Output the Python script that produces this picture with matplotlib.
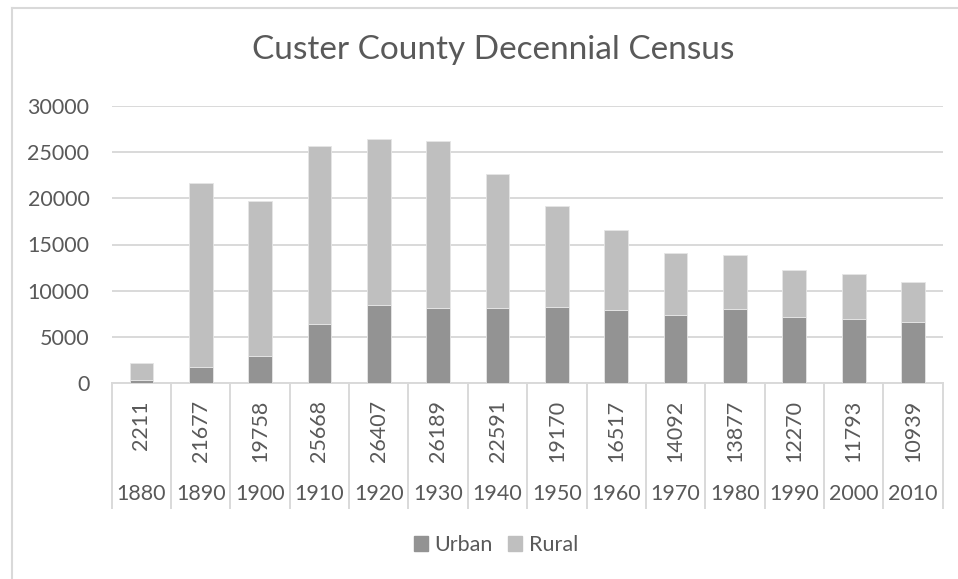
import matplotlib.pyplot as plt
import matplotlib.transforms as mtransforms
from matplotlib.lines import Line2D
from matplotlib.patches import Patch

plt.rcParams['font.family'] = ['Lato', 'DejaVu Sans']

years = ['1880', '1890', '1900', '1910', '1920', '1930', '1940',
         '1950', '1960', '1970', '1980', '1990', '2000', '2010']
totals = [2211, 21677, 19758, 25668, 26407, 26189, 22591,
          19170, 16517, 14092, 13877, 12270, 11793, 10939]
urban = [280, 1700, 2880, 6340, 8470, 8150, 8120,
         8180, 7860, 7390, 7970, 7170, 6880, 6560]
rural = [t - u for t, u in zip(totals, urban)]

W, H = 958, 579
text_col = '#595959'
grid_col = '#D9D9D9'
fs = 15.5

fig = plt.figure(figsize=(W / 100, H / 100), dpi=100)
ax = fig.add_axes([111.7 / W, 1 - 383 / H, (942.7 - 111.7) / W, (383 - 106) / H])

x = list(range(len(years)))
ax.bar(x, urban, width=0.4, color='#939393', edgecolor='#E6E6E6', linewidth=0.6, label='Urban', zorder=3)
ax.bar(x, rural, width=0.4, bottom=urban, color='#BFBFBF', edgecolor='#E6E6E6', linewidth=0.6, label='Rural', zorder=3)

ax.set_xlim(-0.5, len(years) - 0.5)
ax.set_ylim(0, 30000)
ax.set_yticks(range(0, 30001, 5000))
ax.set_yticklabels([str(v) for v in range(0, 30001, 5000)], fontsize=fs, color=text_col)
ax.tick_params(axis='y', length=0, pad=16)
ax.tick_params(axis='x', length=0, labelbottom=False)
ax.yaxis.grid(True, color=grid_col, linewidth=1.4, zorder=0)
for s in ['top', 'right', 'left']:
    ax.spines[s].set_visible(False)
ax.spines['bottom'].set_color(grid_col)
ax.spines['bottom'].set_linewidth(1.4)

# multi-level category axis
trans = mtransforms.blended_transform_factory(ax.transData, fig.transFigure)
for i in range(len(years) + 1):
    ax.add_line(Line2D([i - 0.5, i - 0.5], [1 - 383 / H, 1 - 508 / H], transform=trans,
                       color=grid_col, linewidth=1.4, clip_on=False))
for i, (yr, tot) in enumerate(zip(years, totals)):
    ax.text(i, 1 - 400 / H, str(tot), transform=trans, rotation=90, ha='center', va='top',
            fontsize=fs, color=text_col)
    ax.text(i, 1 - 494 / H, yr, transform=trans, ha='center', va='center',
            fontsize=fs, color=text_col)

fig.suptitle('Custer County Decennial Census', x=493 / W, y=1 - 50 / H, va='center',
             fontsize=24, color=text_col)

handles = [Patch(color='#939393', label='Urban'), Patch(color='#BFBFBF', label='Rural')]
fig.legend(handles=handles, loc='center', bbox_to_anchor=(496 / W, 1 - 545 / H), ncol=2,
           frameon=False, fontsize=fs, labelcolor=text_col, handlelength=0.65,
           handleheight=0.65, handletextpad=0.3, columnspacing=0.7)

# chart border (left and top visible)
fig.add_artist(Line2D([12 / W, 12 / W], [0, 1 - 7.5 / H], transform=fig.transFigure,
                      color=grid_col, linewidth=1.5))
fig.add_artist(Line2D([12 / W, 1], [1 - 7.5 / H, 1 - 7.5 / H], transform=fig.transFigure,
                      color=grid_col, linewidth=1.5))

fig.savefig('out.png', dpi=100)
